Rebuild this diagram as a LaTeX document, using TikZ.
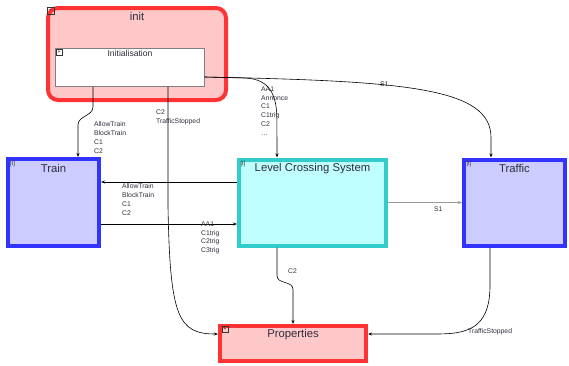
\documentclass[tikz,border=0pt]{standalone}
\usepackage{fontspec}
\setmainfont{Liberation Sans}
\usetikzlibrary{arrows.meta, positioning, calc}
\definecolor{redline}{RGB}{255,51,51}
\definecolor{redfill}{RGB}{255,200,200}
\definecolor{blueline}{RGB}{51,51,255}
\definecolor{bluefill}{RGB}{204,204,255}
\definecolor{tealline}{RGB}{51,204,204}
\definecolor{tealfill}{RGB}{192,255,255}
\definecolor{textgray}{RGB}{45,45,60}
\tikzset{
  % Component block (parameterized by color)
  compblock/.style={
    rectangle, draw=#1line, fill=#1fill, line width=4pt, inner sep=0pt
  },
  subblock/.style={rectangle, draw=gray, fill=white, line width=0.8pt, inner sep=0pt},
  comptitle/.style={font=\fontsize{11.3}{13}\selectfont, text=textgray, inner sep=0pt, anchor=base},
  subtitle/.style={font=\fontsize{8.6}{10}\selectfont, text=textgray, inner sep=0pt, anchor=base},
  % Small markers in the block corners
  icon/.style={rectangle, draw=black!80, line width=0.5pt, minimum size=6pt, inner sep=0pt,
    font=\fontsize{5}{5}\selectfont},
  tag/.style={font=\fontsize{6}{6}\selectfont, inner sep=0pt, text=black!80},
  % Connector and its labels
  conn/.style={-{Stealth[length=4pt, width=3pt]}, line width=0.6pt, black},
  lbl/.style={font=\fontsize{6.8}{8.8}\selectfont, align=left, anchor=north west,
    inner sep=0pt, text=textgray}
}
\begin{document}
\begin{tikzpicture}[x=1pt, y=-1pt]
  \useasboundingbox (0,0) rectangle (569,365);

  % Blocks
  \node[compblock=red, rounded corners=10pt, minimum width=178pt, minimum height=92pt] (init) at (137,54) {};
  \node[subblock, minimum width=149pt, minimum height=38pt] (initialisation) at (130,67.5) {};
  \node[compblock=blue, minimum width=91pt, minimum height=87pt] (train) at (53.5,202.5) {};
  \node[compblock=teal, minimum width=147pt, minimum height=86pt] (lcs) at (312.5,202.5) {};
  \node[compblock=blue, minimum width=101pt, minimum height=86pt] (traffic) at (514.5,202.5) {};
  \node[compblock=red, minimum width=146pt, minimum height=35pt] (properties) at (293,343.5) {};

  % Titles
  \node[comptitle] (initT) at ([yshift=-14pt]init.north) {init};
  \node[subtitle] (initialisationT) at ([yshift=-8pt]initialisation.north) {Initialisation};
  \node[comptitle] (trainT) at ([yshift=-15pt]train.north) {Train};
  \node[comptitle] (lcsT) at ([yshift=-14pt]lcs.north) {Level Crossing System};
  \node[comptitle] (trafficT) at ([yshift=-15pt]traffic.north) {Traffic};
  \node[comptitle] (propertiesT) at ([yshift=-13pt]properties.north) {Properties};

  % Corner markers
  \node[icon, minimum size=7pt] (initI) at (50.5,10.5) {$-$};
  \node[icon] (initialisationI) at (59,52) {+};
  \node[icon] (propertiesI) at (225,329.5) {+};
  \node[tag] (trainI) at (12.5,164) {[t]};
  \node[tag] (lcsI) at (243,163.5) {[t]};
  \node[tag] (trafficI) at (469,164) {[t]};

  % Arrows
  \draw[conn] ([xshift=-37pt]initialisation.south) -- ++(0,20)
    .. controls +(0,9) and +(0,-9) .. ++(-15,18) -- ([xshift=24.5pt]train.north);
  \draw[conn] ([xshift=38pt]initialisation.south) -- ++(0,120)
    .. controls +(2,110) and +(-40,0) .. ([yshift=9.5pt]properties.west);
  \draw[conn] ([yshift=-9.5pt]initialisation.east) -- ++(40,1)
    .. controls +(25,1) and +(0,-25) .. ++(32,42) -- ([xshift=-35.5pt]lcs.north);
  \draw[conn] ([yshift=-9.5pt]initialisation.east)
    .. controls +(200,4) and +(0,-50) .. ([xshift=-23.5pt, yshift=20pt]traffic.north)
    -- ([xshift=-23.5pt]traffic.north);
  \draw[conn] ([yshift=20.5pt]lcs.west) -- ([yshift=20.5pt]train.east);
  \draw[conn] ([yshift=-21.5pt]train.east) -- ([yshift=-21.5pt]lcs.west);
  \draw[conn, gray!80] (lcs.east) -- (traffic.west);
  \draw[conn] ([xshift=-35.5pt]lcs.south) -- ++(0,28)
    .. controls +(0,9) and +(0,-9) .. ++(16,14) -- (properties.north);
  \draw[conn] ([xshift=-24.5pt]traffic.south) -- ++(0,38)
    .. controls +(0,45) and +(30,0) .. ++(-55,48.5) -- ([yshift=9.5pt]properties.east);

  % Connector labels
  \node[lbl] (trainInL) at (94,121.5) {AllowTrain\\BlockTrain\\C1\\C2};
  \node[lbl] (propInL) at (156,109.8) {C2\\TrafficStopped};
  \node[lbl] (lcsInL) at (261,86.5) {AA1\\Annonce\\C1\\C1trig\\C2\\\ldots};
  \node[lbl] (trafficInL) at (380,81.5) {S1};
  \node[lbl] (lcsTrainL) at (122,183.5) {AllowTrain\\BlockTrain\\C1\\C2};
  \node[lbl] (trainLcsL) at (201,221.5) {AA1\\C1trig\\C2trig\\C3trig};
  \node[lbl] (lcsTrafficL) at (434,206.5) {S1};
  \node[lbl] (lcsPropL) at (288,268.5) {C2};
  \node[lbl] (trafficPropL) at (468,328.5) {TrafficStopped};
\end{tikzpicture}
\end{document}
